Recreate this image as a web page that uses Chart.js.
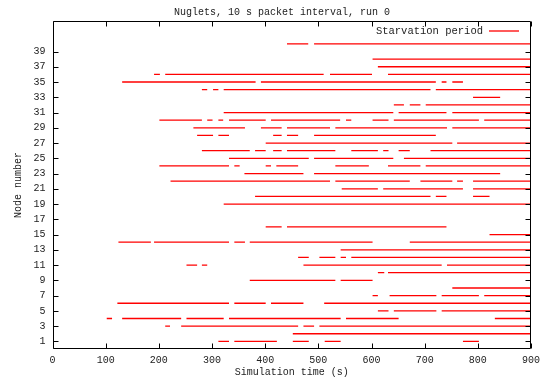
<!DOCTYPE html>
<html><head><meta charset="utf-8">
<script src="https://cdn.jsdelivr.net/npm/chart.js@4/dist/chart.umd.min.js"></script>
<style>html,body{margin:0;padding:0;background:#fff}#wrap{width:541px;height:383px}</style>
</head><body><div id="wrap"><canvas id="c" width="541" height="383"></canvas></div>
<script>
const titleText = 'Nuglets, 10 s packet interval, run 0';
const xLabel = 'Simulation time (s)';
const yLabel = 'Node number';
const legendLabel = 'Starvation period';
const xTicks = [0, 100, 200, 300, 400, 500, 600, 700, 800, 900];
const yTicks = [1, 3, 5, 7, 9, 11, 13, 15, 17, 19, 21, 23, 25, 27, 29, 31, 33, 35, 37, 39];
const nodes = [40, 38, 37, 36, 35, 34, 33, 32, 31, 30, 29, 28, 27, 26, 25, 24, 23, 22, 21, 20, 19, 16, 15, 14, 13, 12, 11, 10, 9, 8, 7, 6, 5, 4, 3, 2, 1];
const periods = [
  [[441,481],[492,900]],
  [[602,900]],
  [[612,900]],
  [[191,202],[212,510],[522,601],[631,900]],
  [[131,382],[392,721],[732,741],[752,772]],
  [[281,291],[302,312],[322,711],[721,900]],
  [[791,842]],
  [[642,661],[672,692],[702,900]],
  [[322,641],[651,741],[752,900]],
  [[201,281],[291,301],[312,321],[332,401],[411,541],[552,562],[602,632],[642,802],[812,900]],
  [[265,362],[392,431],[441,522],[532,742],[752,900]],
  [[272,302],[312,332],[415,431],[441,462],[492,721]],
  [[401,752],[761,900]],
  [[281,371],[381,401],[415,431],[441,532],[562,612],[622,632],[651,672],[711,900]],
  [[332,482],[492,641],[661,900]],
  [[201,332],[342,352],[401,411],[421,462],[532,595],[631,692],[702,900]],
  [[361,472],[492,842]],
  [[222,522],[532,672],[692,752],[761,772],[791,900]],
  [[544,612],[622,772],[791,900]],
  [[381,711],[721,741],[791,822]],
  [[322,900]],
  [[401,431],[441,741]],
  [[822,900]],
  [[124,185],[191,332],[342,362],[371,602],[672,900]],
  [[542,900]],
  [[462,482],[502,532],[542,552],[562,900]],
  [[252,272],[281,291],[472,732],[742,900]],
  [[612,624],[631,900]],
  [[371,532],[542,602]],
  [[752,900]],
  [[602,612],[634,722],[732,802],[812,900]],
  [[122,332],[342,401],[411,472],[511,900]],
  [[612,632],[642,722],[732,900]],
  [[102,112],[131,242],[252,322],[332,542],[552,651],[832,900]],
  [[212,221],[242,462],[472,492],[502,900]],
  [[452,900]],
  [[312,332],[342,422],[452,482],[512,542],[772,802]]
];

const FONT = 'Liberation Mono, DejaVu Sans Mono, monospace';
const RED = '#ff0000';

const datasets = nodes.map((n, i) => {
  const pts = [];
  periods[i].forEach(([a, b]) => {
    pts.push({x: a, y: n}, {x: b, y: n}, {x: b, y: null});
  });
  return {
    label: 'Node ' + n,
    data: pts,
    borderColor: RED,
    borderWidth: 1.3,
    pointRadius: 0,
    spanGaps: false,
    tension: 0,
    fill: false
  };
});

const framePlugin = {
  id: 'frame',
  afterDatasetsDraw(chart) {
    const {ctx, chartArea: a, scales: {x, y}} = chart;
    ctx.save();
    ctx.strokeStyle = '#000';
    ctx.lineWidth = 1;
    const L = Math.round(a.left) + 0.5, R = Math.round(a.right) - 0.5;
    const T = Math.round(a.top) + 0.5, B = Math.round(a.bottom) - 0.5;
    ctx.beginPath();
    ctx.rect(L, T, R - L, B - T);
    const tl = 5;
    xTicks.forEach(v => {
      const px = Math.round(x.getPixelForValue(v)) + 0.5;
      ctx.moveTo(px, B); ctx.lineTo(px, B - tl);
      ctx.moveTo(px, T); ctx.lineTo(px, T + tl);
    });
    yTicks.forEach(v => {
      const py = Math.round(y.getPixelForValue(v)) + 0.5;
      ctx.moveTo(L, py); ctx.lineTo(L + tl, py);
      ctx.moveTo(R, py); ctx.lineTo(R - tl, py);
    });
    ctx.stroke();
    // legend
    ctx.font = '10.5px ' + FONT;
    ctx.fillStyle = '#222';
    ctx.textAlign = 'right';
    ctx.textBaseline = 'middle';
    ctx.fillText(legendLabel, 483, 31);
    ctx.strokeStyle = RED;
    ctx.lineWidth = 1.3;
    ctx.beginPath();
    ctx.moveTo(489, 31); ctx.lineTo(519, 31);
    ctx.stroke();
    // title
    ctx.font = '10px ' + FONT;
    ctx.textAlign = 'center';
    ctx.fillStyle = '#222';
    ctx.fillText(titleText, 282, 12);
    ctx.restore();
  }
};

new Chart(document.getElementById('c'), {
  type: 'line',
  data: {datasets},
  options: {
    responsive: false,
    animation: false,
    devicePixelRatio: 1,
    layout: {padding: {left: 0, right: 10, top: 21, bottom: 0}},
    plugins: {legend: {display: false}, tooltip: {enabled: false}, title: {display: false}},
    scales: {
      x: {
        type: 'linear', min: 0, max: 900,
        grid: {display: false, drawTicks: false},
        border: {display: false},
        ticks: {stepSize: 100, padding: 5, color: '#222', font: {family: FONT, size: 10}, maxRotation: 0},
        afterBuildTicks: s => { s.ticks = xTicks.map(v => ({value: v})); },
        afterFit: s => { s.height = 34; s.paddingLeft = 0; s.paddingRight = 0; },
        title: {display: true, text: xLabel, color: '#222', font: {family: FONT, size: 10}, padding: {top: 0, bottom: 5}}
      },
      y: {
        type: 'linear', min: 0, max: 43,
        grid: {display: false, drawTicks: false},
        border: {display: false},
        ticks: {padding: 7, color: '#222', font: {family: FONT, size: 10}},
        afterBuildTicks: s => { s.ticks = yTicks.map(v => ({value: v})); },
        afterFit: s => { s.width = 52.5; s.paddingTop = 0; s.paddingBottom = 0; },
        title: {display: true, text: yLabel, color: '#222', font: {family: FONT, size: 10}, padding: {top: 12, bottom: 0}}
      }
    }
  },
  plugins: [framePlugin]
});
</script></body></html>
